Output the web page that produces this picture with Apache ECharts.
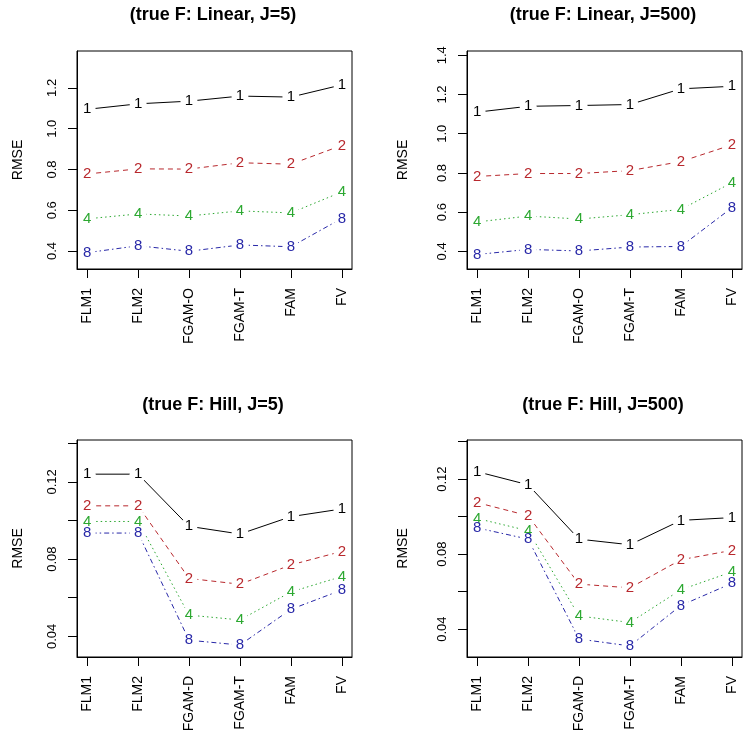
<!DOCTYPE html>
<html>
<head>
<meta charset="utf-8">
<title>RMSE panels</title>
<script src="https://cdn.jsdelivr.net/npm/echarts@6/dist/echarts.min.js"></script>
<style>
  html, body { margin: 0; padding: 0; background: #fff; }
  #chart { width: 750px; height: 743px; }
</style>
</head>
<body>
<div id="chart"></div>
<script>
// x categories
var catsLinear = ['FLM1', 'FLM2', 'FGAM-O', 'FGAM-T', 'FAM', 'FV']
var catsHill = ['FLM1', 'FLM2', 'FGAM-D', 'FGAM-T', 'FAM', 'FV']

// series names (drawn as the point symbols)
var seriesNames = ['1', '2', '4', '8']

// (true F: Linear, J=5)
var lin5_1 = [1.095, 1.122, 1.135, 1.16, 1.155, 1.215]
var lin5_2 = [0.778, 0.803, 0.802, 0.833, 0.826, 0.918]
var lin5_4 = [0.558, 0.582, 0.572, 0.597, 0.587, 0.69]
var lin5_8 = [0.392, 0.426, 0.399, 0.43, 0.421, 0.56]

// (true F: Linear, J=500)
var lin500_1 = [1.11, 1.14, 1.144, 1.149, 1.229, 1.242]
var lin500_2 = [0.782, 0.797, 0.797, 0.812, 0.858, 0.943]
var lin500_4 = [0.55, 0.58, 0.565, 0.587, 0.614, 0.75]
var lin500_8 = [0.384, 0.41, 0.402, 0.422, 0.425, 0.622]

// (true F: Hill, J=5)
var hill5_1 = [0.124, 0.124, 0.097, 0.093, 0.102, 0.106]
var hill5_2 = [0.1076, 0.1076, 0.070, 0.067, 0.077, 0.084]
var hill5_4 = [0.0995, 0.0995, 0.051, 0.0485, 0.063, 0.071]
var hill5_8 = [0.0935, 0.0935, 0.038, 0.0355, 0.054, 0.064]

// (true F: Hill, J=500)
var hill500_1 = [0.124, 0.117, 0.088, 0.085, 0.098, 0.0995]
var hill500_2 = [0.1075, 0.1005, 0.064, 0.062, 0.077, 0.082]
var hill500_4 = [0.099, 0.0925, 0.047, 0.0435, 0.061, 0.0705]
var hill500_8 = [0.094, 0.088, 0.0347, 0.031, 0.0526, 0.0644]

// y ticks / labels
var linear5Ticks = [0.4, 0.6, 0.8, 1.0, 1.2]
var linear500Ticks = [0.4, 0.6, 0.8, 1.0, 1.2, 1.4]
var hillTicks = [0.04, 0.06, 0.08, 0.10, 0.12, 0.14]
var hillLabels = [0.04, 0.08, 0.12]
var xTicks = [1, 2, 3, 4, 5, 6]

var FONT = 'Liberation Sans'
var colors = ['#000000', '#b8282d', '#2ca831', '#2828a8']
var dashes = ['solid', [5, 4], [1.5, 3], [1.5, 3, 5, 3]]

var panels = [
  { title: '(true F: Linear, J=5)', cats: catsLinear, data: [lin5_1, lin5_2, lin5_4, lin5_8],
    ticks: linear5Ticks, labels: linear5Ticks, dec: 1, min: 0.312, max: 1.381,
    grid: { left: 77, top: 51, width: 275, height: 218 }, titleX: 213, titleY: 6, nameGap: 52 },
  { title: '(true F: Linear, J=500)', cats: catsLinear, data: [lin500_1, lin500_2, lin500_4, lin500_8],
    ticks: linear500Ticks, labels: linear500Ticks, dec: 1, min: 0.31, max: 1.422,
    grid: { left: 467, top: 51, width: 275, height: 218 }, titleX: 603, titleY: 6, nameGap: 57 },
  { title: '(true F: Hill, J=5)', cats: catsHill, data: [hill5_1, hill5_2, hill5_4, hill5_8],
    ticks: hillTicks, labels: hillLabels, dec: 2, min: 0.0293, max: 0.1417,
    grid: { left: 77, top: 440, width: 275, height: 217 }, titleX: 213, titleY: 396, nameGap: 52 },
  { title: '(true F: Hill, J=500)', cats: catsHill, data: [hill500_1, hill500_2, hill500_4, hill500_8],
    ticks: hillTicks, labels: hillLabels, dec: 2, min: 0.0251, max: 0.1409,
    grid: { left: 467, top: 440, width: 275, height: 217 }, titleX: 603, titleY: 396, nameGap: 57 }
]

var titles = [], grids = [], xAxes = [], yAxes = [], series = []

panels.forEach(function (p, i) {
  titles.push({
    text: p.title, left: p.titleX, top: p.titleY, textAlign: 'center', padding: 0,
    textStyle: { fontFamily: FONT, fontSize: 18, fontWeight: 'bold', color: '#000' }
  })
  grids.push(Object.assign({ show: true, borderColor: '#000', borderWidth: 1 }, p.grid))
  xAxes.push({
    gridIndex: i, type: 'value', min: 0.8, max: 6.2,
    axisLine: { show: true, onZero: false, lineStyle: { color: '#000', width: 1 } },
    axisTick: { show: true, inside: false, length: 9, customValues: xTicks, lineStyle: { color: '#000' } },
    axisLabel: {
      customValues: xTicks, rotate: 90, margin: 19, fontFamily: FONT, fontSize: 14, color: '#000',
      formatter: function (v) { return p.cats[Math.round(v) - 1] }
    },
    splitLine: { show: false }
  })
  yAxes.push({
    gridIndex: i, type: 'value', min: p.min, max: p.max,
    name: 'RMSE', nameLocation: 'middle', nameRotate: 90, nameGap: p.nameGap,
    nameTextStyle: { fontFamily: FONT, fontSize: 14, color: '#000' },
    axisLine: { show: true, onZero: false, lineStyle: { color: '#000', width: 1 } },
    axisTick: { show: true, inside: false, length: 9, customValues: p.ticks, lineStyle: { color: '#000' } },
    axisLabel: {
      customValues: p.labels, rotate: 90, margin: 18, fontFamily: FONT, fontSize: 13, color: '#000',
      formatter: function (v) { return v.toFixed(p.dec) }
    },
    splitLine: { show: false }
  })
  p.data.forEach(function (vals, k) {
    series.push({
      type: 'line',
      name: seriesNames[k],
      xAxisIndex: i, yAxisIndex: i,
      data: vals.map(function (v, j) { return [j + 1, v] }),
      symbol: 'circle', symbolSize: 17,
      itemStyle: { color: '#fff', borderWidth: 0 },
      lineStyle: { color: colors[k], width: 1, type: dashes[k] },
      label: {
        show: true, position: 'inside', formatter: seriesNames[k],
        color: colors[k], fontFamily: FONT, fontSize: 15
      },
      emphasis: { disabled: true },
      silent: true
    })
  })
})

var chart = echarts.init(document.getElementById('chart'))
chart.setOption({
  animation: false,
  backgroundColor: '#fff',
  title: titles,
  grid: grids,
  xAxis: xAxes,
  yAxis: yAxes,
  series: series
})
</script>
</body>
</html>
